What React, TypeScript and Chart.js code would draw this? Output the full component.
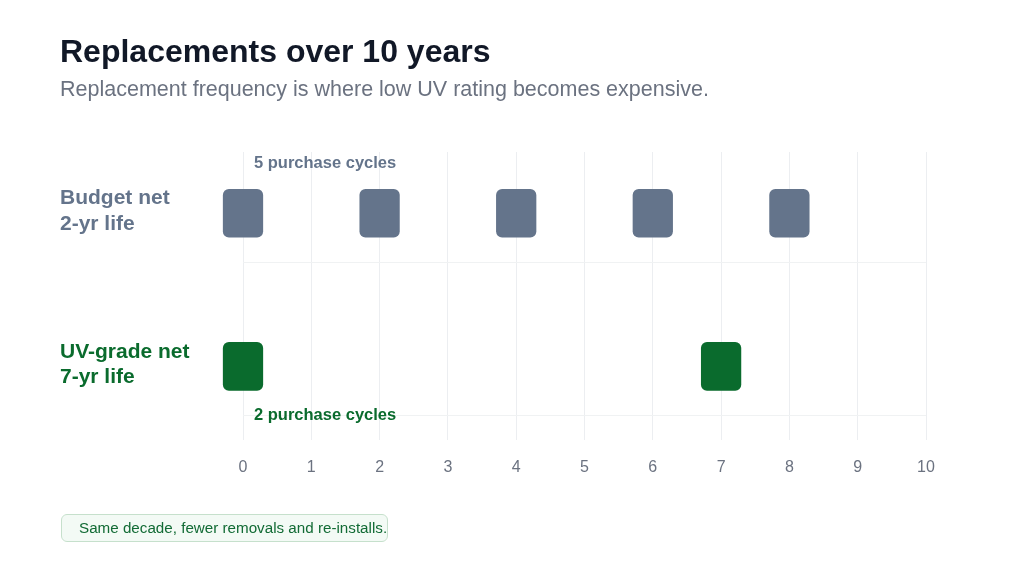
import React, { useEffect, useRef } from "react";
import { Chart, registerables } from "chart.js";

Chart.register(...registerables);

const TITLE = "Replacements over 10 years";
const SUBTITLE = "Replacement frequency is where low UV rating becomes expensive.";
const FOOTNOTE = "Same decade, fewer removals and re-installs.";

const ROW_LABELS = [["Budget net", "2-yr life"], ["UV-grade net", "7-yr life"]];
const ROW_COLORS = ["#64748b", "#0a6b2d"];
const CYCLE_LABELS = ["5 purchase cycles", "2 purchase cycles"];

const BUDGET_PURCHASE_YEARS = [0, 2, 4, 6, 8];
const UV_PURCHASE_YEARS = [0, 7];
const X_TICKS = [0, 1, 2, 3, 4, 5, 6, 7, 8, 9, 10];
const HALF_WIDTH = 0.29; // marker half width in years

const FONT = "'Liberation Sans', Arial, Helvetica, sans-serif";

export default function App() {
  const ref = useRef<HTMLCanvasElement | null>(null);

  useEffect(() => {
    if (!ref.current) return;

    const cyclePlugin = {
      id: "cycleLabels",
      afterDatasetsDraw(chart: any) {
        const { ctx, scales } = chart;
        const x0 = scales.x.getPixelForValue(0);
        ctx.save();
        ctx.font = `bold 16.5px ${FONT}`;
        ctx.textAlign = "left";
        ctx.textBaseline = "middle";
        const offsets = [-50, 49];
        CYCLE_LABELS.forEach((t, i) => {
          ctx.fillStyle = ROW_COLORS[i];
          ctx.fillText(t, x0 + 11, scales.y.getPixelForValue(i) + offsets[i]);
        });
        ctx.restore();
      },
    };

    const chart = new Chart(ref.current, {
      type: "bar",
      data: {
        datasets: [
          {
            label: "Budget net",
            data: BUDGET_PURCHASE_YEARS.map((v) => ({ x: [v - HALF_WIDTH, v + HALF_WIDTH], y: 0 })) as any,
            backgroundColor: ROW_COLORS[0],
            borderRadius: 6,
            borderSkipped: false,
            barThickness: 48,
            grouped: false,
            clip: false as any,
          },
          {
            label: "UV-grade net",
            data: UV_PURCHASE_YEARS.map((v) => ({ x: [v - HALF_WIDTH, v + HALF_WIDTH], y: 1 })) as any,
            backgroundColor: ROW_COLORS[1],
            borderRadius: 6,
            borderSkipped: false,
            barThickness: 48,
            grouped: false,
            clip: false as any,
          },
        ],
      },
      options: {
        indexAxis: "y",
        animation: false,
        responsive: false,
        maintainAspectRatio: false,
        layout: { padding: { left: 60, right: 98, top: 152, bottom: 81 } },
        plugins: {
          legend: { display: false },
          tooltip: { enabled: false },
          title: { display: false },
        },
        scales: {
          x: {
            type: "linear",
            min: 0,
            max: 10,
            afterBuildTicks: (axis: any) => {
              axis.ticks = X_TICKS.map((v) => ({ value: v }));
            },
            grid: { color: "#eceef1", drawTicks: false, lineWidth: 1, offset: false },
            border: { display: false },
            ticks: {
              padding: 18,
              color: "#6b7280",
              font: { family: FONT, size: 16 },
            },
          },
          y: {
            type: "linear",
            reverse: true,
            min: -0.4,
            max: 1.48,
            offset: false,
            position: "left",
            afterBuildTicks: (axis: any) => {
              axis.ticks = [{ value: 0 }, { value: 1 }];
            },
            afterFit: (axis: any) => {
              axis.width = 183;
            },
            grid: { display: false, drawTicks: false, offset: false },
            border: { display: false },
            ticks: {
              crossAlign: "far",
              padding: 0,
              labelOffset: -2,
              color: (ctx: any) => ROW_COLORS[ctx.index] || "#64748b",
              font: { family: FONT, size: 21, weight: "bold", lineHeight: 1.2 },
              callback: (_v: any, i: number) => ROW_LABELS[i],
            },
          },
          yGrid: {
            type: "linear",
            reverse: true,
            min: -0.4,
            max: 1.48,
            offset: false,
            position: "left",
            afterBuildTicks: (axis: any) => {
              axis.ticks = [{ value: 0.32 }, { value: 1.32 }];
            },
            afterFit: (axis: any) => {
              axis.width = 0;
            },
            grid: { color: "#f0f2f3", drawTicks: false, offset: false },
            border: { display: false },
            ticks: { display: false },
          },
        },
      } as any,
      plugins: [cyclePlugin],
    });

    return () => chart.destroy();
  }, []);

  return (
    <div
      style={{
        position: "fixed",
        left: 0,
        top: 0,
        width: 1024,
        height: 576,
        background: "#ffffff",
        fontFamily: FONT,
        overflow: "hidden",
      }}
    >
      <canvas
        ref={ref}
        width={1024}
        height={576}
        style={{ position: "absolute", left: 0, top: 0, width: 1024, height: 576 }}
      />
      <div
        style={{
          position: "absolute",
          left: 60,
          top: 35,
          fontSize: 32,
          lineHeight: 1,
          fontWeight: 700,
          color: "#111827",
          whiteSpace: "nowrap",
        }}
      >
        {TITLE}
      </div>
      <div
        style={{
          position: "absolute",
          left: 60,
          top: 79,
          fontSize: 21.5,
          lineHeight: 1,
          color: "#6b7280",
          whiteSpace: "nowrap",
        }}
      >
        {SUBTITLE}
      </div>
      <div
        style={{
          position: "absolute",
          left: 61,
          top: 514,
          width: 327,
          height: 28,
          boxSizing: "border-box",
          border: "1px solid #c6e0cc",
          borderRadius: 6,
          background: "#f3faf5",
          paddingLeft: 17,
          fontSize: 15.2,
          lineHeight: "26px",
          color: "#126b35",
          whiteSpace: "nowrap",
        }}
      >
        {FOOTNOTE}
      </div>
    </div>
  );
}
